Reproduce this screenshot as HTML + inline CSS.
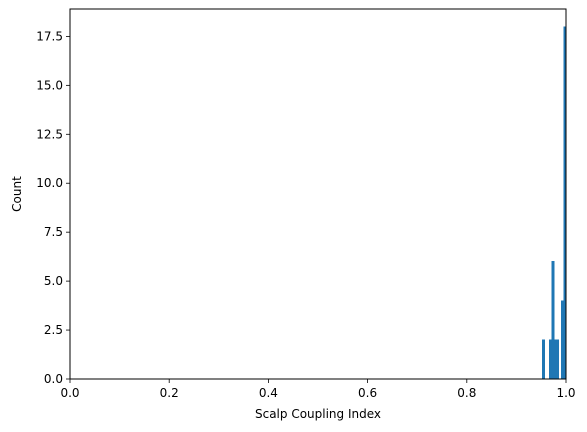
<!DOCTYPE html>
<html><head><meta charset="utf-8"><style>
body{margin:0;background:#fff;}
svg{display:block;font-family:"DejaVu Sans","Liberation Sans",sans-serif;}
</style></head><body>
<svg id="chart" width="587" height="432"></svg>
<script>
const binStart = 0.952;
const binWidth = 0.0048;
const counts = [2, 0, 0, 2, 6, 2, 2, 0, 4, 18];
const xTicks = [0, 0.2, 0.4, 0.6, 0.8, 1.0];
const xTickLabels = ["0.0", "0.2", "0.4", "0.6", "0.8", "1.0"];
const yTicks = [0, 2.5, 5, 7.5, 10, 12.5, 15, 17.5];
const yTickLabels = ["0.0", "2.5", "5.0", "7.5", "10.0", "12.5", "15.0", "17.5"];

const L = 70, R = 566, T = 9, B = 379;
const xMin = 0, xMax = 1, yMin = 0, yMax = 18.9;
const xs = v => L + (v - xMin) / (xMax - xMin) * (R - L);
const ys = v => B - (v - yMin) / (yMax - yMin) * (B - T);
const svg = document.getElementById('chart');
const NS = 'http://www.w3.org/2000/svg';
function mk(tag, attrs, text) {
  const e = document.createElementNS(NS, tag);
  for (const k in attrs) e.setAttribute(k, attrs[k]);
  if (text !== undefined) e.textContent = text;
  svg.appendChild(e);
  return e;
}
counts.forEach((c, i) => {
  if (c <= 0) return;
  const x0 = xs(binStart + i * binWidth), x1 = xs(binStart + (i + 1) * binWidth);
  const r = mk('rect', {x: x0, y: ys(c), width: x1 - x0, height: ys(0) - ys(c), fill: '#1f77b4', stroke: '#1f77b4', 'stroke-width': 0.6, 'shape-rendering': 'crispEdges'});
  
  
});
const frame = mk('rect', {x: L, y: T, width: R - L, height: B - T, fill: 'none', stroke: '#000', 'stroke-width': 1});


xTicks.forEach((v, i) => {
  const x = xs(v);
  mk('line', {x1: x, x2: x, y1: B, y2: B + 4, stroke: '#000', 'stroke-width': 0.8});
  const t = mk('text', {x: x, y: B + 18, 'text-anchor': 'middle', 'font-size': 12, fill: '#000'}, xTickLabels[i]);
  
  
});
yTicks.forEach((v, i) => {
  const y = ys(v);
  mk('line', {x1: L - 4, x2: L, y1: y, y2: y, stroke: '#000', 'stroke-width': 0.8});
  const t = mk('text', {x: L - 7, y: y + 4, 'text-anchor': 'end', 'font-size': 12, fill: '#000'}, yTickLabels[i]);
  
  
});
const xt = mk('text', {x: (L + R) / 2, y: 418, 'text-anchor': 'middle', 'font-size': 12, fill: '#000'}, 'Scalp Coupling Index');


const yt = mk('text', {x: 21, y: (T + B) / 2, 'text-anchor': 'middle', 'font-size': 12, fill: '#000', transform: 'rotate(-90 21 ' + ((T + B) / 2) + ')'}, 'Count');


</script>
</body></html>
